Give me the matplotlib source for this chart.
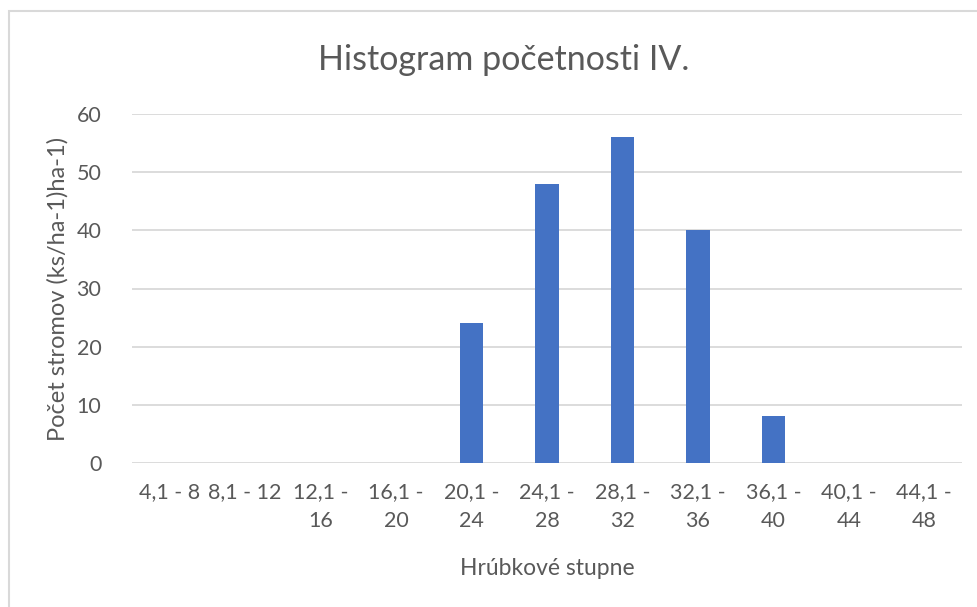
import matplotlib
matplotlib.use("Agg")
import matplotlib.pyplot as plt
from matplotlib.patches import Rectangle

categories = ["4,1 - 8", "8,1 - 12", "12,1 -\n16", "16,1 -\n20", "20,1 -\n24", "24,1 -\n28",
              "28,1 -\n32", "32,1 -\n36", "36,1 -\n40", "40,1 -\n44", "44,1 -\n48"]
values = [0, 0, 0, 0, 24, 48, 56, 40, 8, 0, 0]
yticks = [0, 10, 20, 30, 40, 50, 60]

plt.rcParams['font.family'] = ['Lato', 'DejaVu Sans']
fig = plt.figure(figsize=(9.77, 6.07), dpi=100)
ax = fig.add_axes([132/977, 1-463/607, (962-132)/977, (463-114)/607])

x = list(range(len(categories)))
ax.bar(x, values, width=0.31, color="#4472C4", zorder=3)
ax.set_xlim(-0.5, len(categories)-0.5)
ax.set_ylim(0, 60)
ax.set_yticks(yticks)
ax.set_xticks(x)
ax.set_xticklabels(categories, linespacing=1.55, va='top')
ax.grid(axis='y', color='#D9D9D9', linewidth=1.3, zorder=0)
for s in ax.spines.values():
    s.set_visible(False)
ax.tick_params(axis='both', length=0, labelsize=15.5, labelcolor='#595959')
ax.tick_params(axis='x', pad=14)
ax.tick_params(axis='y', pad=22)
ax.set_xlabel("Hrúbkové stupne", fontsize=16.5, color='#595959', labelpad=19)
ax.set_ylabel("Počet stromov (ks/ha-1)ha-1)", fontsize=17, color='#595959', labelpad=6)
fig.text(0.5 + 15/977, 1-60/607, "Histogram početnosti IV.", ha='center', va='center',
         fontsize=24.5, color='#595959')
fig.patches.append(Rectangle((9/977, -0.1), 1.2, 1 - 11/607 + 0.1, transform=fig.transFigure,
                             fill=False, edgecolor='#D9D9D9', linewidth=1.5))
fig.savefig("out.png", dpi=100)
